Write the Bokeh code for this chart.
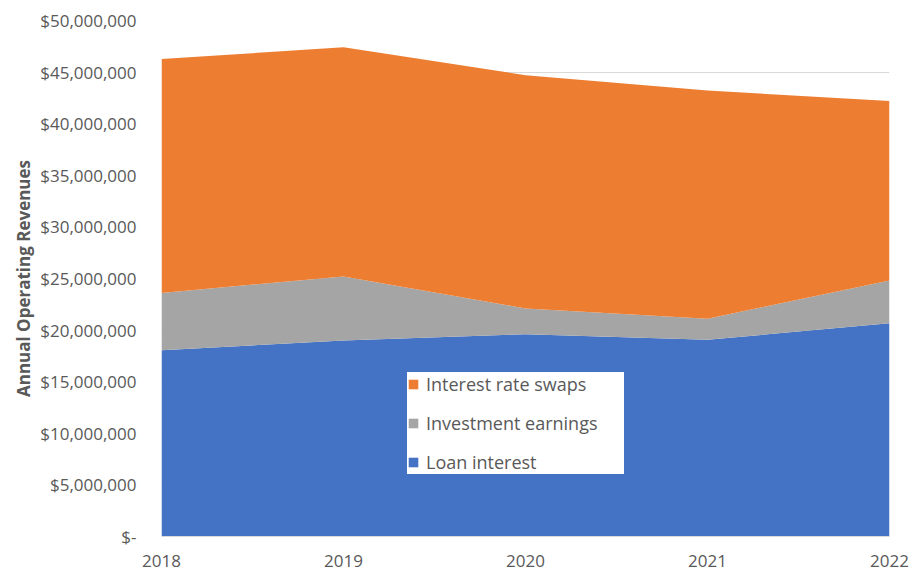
from bokeh.plotting import figure
from bokeh.models import Range1d, Legend, LegendItem, CustomJSTickFormatter, FixedTicker, ColumnDataSource
from bokeh.embed import file_html
from bokeh.resources import INLINE

years = [2018, 2019, 2020, 2021, 2022]
loan_interest = [18050000, 19000000, 19600000, 19060000, 20670000]
investment_earnings = [5550000, 6200000, 2500000, 2050000, 4130000]
interest_rate_swaps = [22670000, 22200000, 22600000, 22100000, 17400000]
y_ticks = list(range(0, 50000001, 5000000))

src = ColumnDataSource(dict(x=years, loan=loan_interest, inv=investment_earnings, swaps=interest_rate_swaps))

FONT = "Open Sans"
GREY = "#595959"

p = figure(width=910, height=571, output_backend="svg", toolbar_location=None,
           x_range=Range1d(2018, 2022), y_range=Range1d(0, 50000000),
           min_border_left=161, min_border_right=21, min_border_top=20, min_border_bottom=35)
p.outline_line_color = None
p.background_fill_color = "white"
p.border_fill_color = "white"

rs = p.varea_stack(stackers=["loan", "inv", "swaps"], x="x", source=src,
                   color=["#4472C4", "#A5A5A5", "#ED7D31"])

p.xgrid.visible = False
p.ygrid.grid_line_color = "#D9D9D9"
p.ygrid.grid_line_width = 1
p.yaxis.ticker = FixedTicker(ticks=y_ticks)
p.yaxis.formatter = CustomJSTickFormatter(code="""
return tick == 0 ? "$-" : "$" + tick.toLocaleString("en-US");
""")
p.yaxis.axis_line_color = None
p.yaxis.major_tick_line_color = None
p.yaxis.minor_tick_line_color = None
p.yaxis.major_label_standoff = 19
p.yaxis.major_label_text_font = FONT
p.yaxis.major_label_text_font_size = "17px"
p.yaxis.major_label_text_color = GREY
p.yaxis.axis_label = "Annual Operating Revenues"
p.yaxis.axis_label_text_font = FONT
p.yaxis.axis_label_text_font_size = "17px"
p.yaxis.axis_label_text_font_style = "bold"
p.yaxis.axis_label_text_color = GREY
p.yaxis.axis_label_standoff = 2

p.xaxis.ticker = FixedTicker(ticks=years)
p.xaxis.axis_line_color = "#D9D9D9"
p.xaxis.major_tick_line_color = None
p.xaxis.minor_tick_line_color = None
p.xaxis.major_label_standoff = 12
p.xaxis.major_label_text_font = FONT
p.xaxis.major_label_text_font_size = "17px"
p.xaxis.major_label_text_color = GREY

legend = Legend(items=[
    LegendItem(label="Interest rate swaps", renderers=[rs[2]]),
    LegendItem(label="Investment earnings", renderers=[rs[1]]),
    LegendItem(label="Loan interest", renderers=[rs[0]]),
], location=(246, 62))
legend.background_fill_color = "white"
legend.background_fill_alpha = 1
legend.border_line_color = None
legend.label_text_font = FONT
legend.label_text_font_size = "18px"
legend.label_text_color = GREY
legend.label_height = 22
legend.label_width = 198
legend.glyph_width = 12
legend.glyph_height = 12
legend.spacing = 15
legend.padding = 12
legend.margin = 0
legend.label_standoff = 7
p.add_layout(legend, "center")

open("out.html", "w").write(file_html(p, INLINE))
